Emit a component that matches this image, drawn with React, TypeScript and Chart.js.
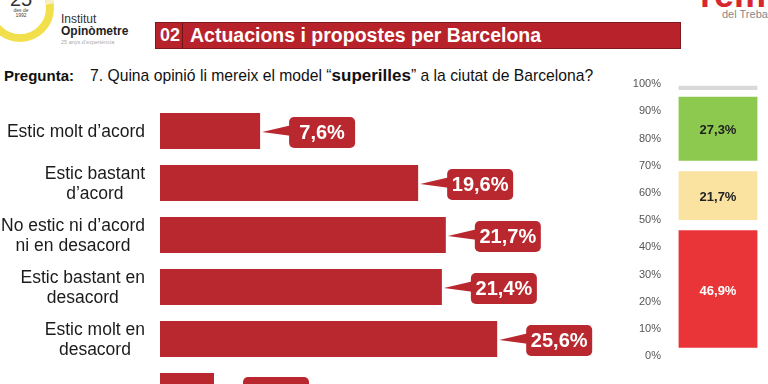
import React, { useEffect, useRef } from "react";
import { Chart, registerables } from "chart.js";

Chart.register(...registerables);

// ---------- data ----------
const categories: string[][] = [
  ["Estic molt d’acord"],
  ["Estic bastant", "d’acord"],
  ["No estic ni d’acord", "ni en desacord"],
  ["Estic bastant en", "desacord"],
  ["Estic molt en", "desacord"],
  ["Ns/Nc"],
];
const values = [7.6, 19.6, 21.7, 21.4, 25.6, 4.1];
const valueLabels = ["7,6%", "19,6%", "21,7%", "21,4%", "25,6%", "4,1%"];

const summaryNames = ["En desacord", "Ni d’acord ni en desacord", "D’acord", "Ns/Nc"];
const summaryValues = [46.9, 21.7, 27.3, 4.1];
const summaryLabels = ["46,9%", "21,7%", "27,3%", ""];
const summaryTicks = [0, 10, 20, 30, 40, 50, 60, 70, 80, 90, 100];

// ---------- styles ----------
const FONT = "'Liberation Sans', Arial, Helvetica, sans-serif";
const BAR_RED = "#b9282e";
const SUMMARY_COLORS = ["#ea3538", "#fae2a0", "#8dc94f", "#d9d9d9"];
const SUMMARY_TEXT = ["#ffffff", "#222222", "#1e1e1e", "#222222"];

const leftPlugin = {
  id: "leftLabels",
  afterDraw(chart: any) {
    const ctx = chart.ctx as CanvasRenderingContext2D;
    const yScale = chart.scales.y;
    const xScale = chart.scales.x;
    ctx.save();
    // category labels, block right aligned, lines centred
    ctx.font = `17.5px ${FONT}`;
    ctx.fillStyle = "#1b1b1b";
    ctx.textAlign = "center";
    ctx.textBaseline = "middle";
    categories.forEach((lines, i) => {
      const cy = yScale.getPixelForValue(i);
      const maxW = Math.max(...lines.map((l) => ctx.measureText(l).width));
      const cx = 145 - maxW / 2;
      lines.forEach((l, j) => {
        ctx.fillText(l, cx, cy + (j - (lines.length - 1) / 2) * 20.5 + 1);
      });
    });
    // callouts
    const meta = chart.getDatasetMeta(0);
    meta.data.forEach((bar: any, i: number) => {
      const end = xScale.getPixelForValue(values[i]);
      const cy = bar.y;
      const x0 = end + 29;
      const w = 66;
      const h = 31;
      const y0 = cy - 14;
      ctx.fillStyle = BAR_RED;
      ctx.beginPath();
      ctx.moveTo(end + 2, cy + 1);
      ctx.lineTo(x0 + 3, cy - 6);
      ctx.lineTo(x0 + 3, cy + 5);
      ctx.closePath();
      ctx.fill();
      ctx.beginPath();
      (ctx as any).roundRect(x0, y0, w, h, 5);
      ctx.fill();
      ctx.fillStyle = "#ffffff";
      ctx.font = `bold 20px ${FONT}`;
      ctx.textAlign = "center";
      ctx.textBaseline = "middle";
      ctx.fillText(valueLabels[i], x0 + w / 2, y0 + h / 2 + 1);
    });
    ctx.restore();
  },
};

const rightPlugin = {
  id: "segLabels",
  afterDatasetsDraw(chart: any) {
    const ctx = chart.ctx as CanvasRenderingContext2D;
    ctx.save();
    ctx.font = `bold 13px ${FONT}`;
    ctx.textAlign = "center";
    ctx.textBaseline = "middle";
    chart.data.datasets.forEach((ds: any, i: number) => {
      const el = chart.getDatasetMeta(i).data[0];
      if (!el || !summaryLabels[i]) return;
      const top = Math.min(el.y, el.base) + 2;
      const bottom = Math.max(el.y, el.base) - 9;
      ctx.fillStyle = SUMMARY_TEXT[i];
      ctx.fillText(summaryLabels[i], el.x, (top + bottom) / 2 + 2);
    });
    ctx.restore();
  },
};

export default function App() {
  const leftRef = useRef<HTMLCanvasElement>(null);
  const rightRef = useRef<HTMLCanvasElement>(null);

  useEffect(() => {
    const left = new Chart(leftRef.current as HTMLCanvasElement, {
      type: "bar",
      data: {
        labels: categories.map((c) => c.join(" ")),
        datasets: [
          {
            data: values,
            backgroundColor: BAR_RED,
            barPercentage: 0.69,
            categoryPercentage: 1,
          },
        ],
      },
      options: {
        indexAxis: "y",
        animation: false,
        responsive: false,
        maintainAspectRatio: false,
        layout: { padding: { top: 5, bottom: 13, left: 0, right: 0 } },
        plugins: { legend: { display: false }, tooltip: { enabled: false } },
        scales: {
          x: { display: false, min: 0, max: 35 },
          y: {
            grid: { display: false, drawTicks: false },
            border: { display: false },
            ticks: { display: false },
            afterFit: (a: any) => {
              a.width = 160;
            },
          },
        },
      },
      plugins: [leftPlugin],
    } as any);

    const right = new Chart(rightRef.current as HTMLCanvasElement, {
      type: "bar",
      data: {
        labels: [""],
        datasets: summaryValues.map((v, i) => ({
          label: summaryNames[i],
          data: [v],
          backgroundColor: SUMMARY_COLORS[i],
          borderColor: "#ffffff",
          borderWidth: { top: 2, bottom: 9, left: 0, right: 0 },
          borderSkipped: false,
          barThickness: 79,
        })),
      },
      options: {
        animation: false,
        responsive: false,
        maintainAspectRatio: false,
        layout: { padding: { top: 14, bottom: 12, left: 0, right: 0 } },
        plugins: { legend: { display: false }, tooltip: { enabled: false } },
        scales: {
          x: { stacked: true, display: false },
          y: {
            stacked: true,
            min: 0,
            max: 100,
            afterBuildTicks: (a: any) => {
              a.ticks = summaryTicks.map((v) => ({ value: v }));
            },
            ticks: {
              callback: (v: any) => `${v}%`,
              color: "#555555",
              font: { size: 11, family: FONT },
              padding: 7,
            },
            grid: { display: false, drawTicks: false },
            border: { display: false },
            afterFit: (a: any) => {
              a.width = 68;
            },
          },
        },
      },
      plugins: [rightPlugin],
    } as any);

    return () => {
      left.destroy();
      right.destroy();
    };
  }, []);

  return (
    <div
      style={{
        position: "fixed",
        left: 0,
        top: 0,
        width: 768,
        height: 384,
        overflow: "hidden",
        background: "#ffffff",
        fontFamily: FONT,
      }}
    >
      {/* logos */}
      <svg width={768} height={60} style={{ position: "absolute", left: 0, top: 0 }}>
        <circle cx={20} cy={8} r={30} fill="none" stroke="#f1e04c" strokeWidth={8} />
        <path d="M 41 -13 A 30 30 0 0 1 50 4" fill="none" stroke="#f6f0c4" strokeWidth={8} />
        <text x={21} y={6} textAnchor="middle" fontSize={20} fontFamily={FONT} fill="#333">25</text>
        <text x={21} y={12} textAnchor="middle" fontSize={5} fontFamily={FONT} fill="#444">des de</text>
        <text x={21} y={17} textAnchor="middle" fontSize={5} fontFamily={FONT} fill="#444">1992</text>
        <text x={61} y={23} fontSize={12} fontFamily={FONT} fill="#333">Institut</text>
        <text x={61} y={35} fontSize={12} fontWeight="bold" fontFamily={FONT} fill="#222">Opinòmetre</text>
        <text x={61} y={44} fontSize={5.5} fontFamily={FONT} fill="#aaa">25 anys d’experiència</text>
        <text x={700} y={7} fontSize={36} fontWeight="bold" fontFamily={FONT} fill="#d7262f">rem</text>
        <text x={722} y={18} fontSize={11} fontFamily={FONT} fill="#888">del Treball</text>
      </svg>

      {/* title bar */}
      <div
        style={{
          position: "absolute",
          left: 155,
          top: 22,
          width: 524,
          height: 25,
          background: "#b8232b",
          border: "1px solid #7e1a1f",
          color: "#ffffff",
          fontWeight: "bold",
          fontSize: 19.5,
          lineHeight: "25px",
        }}
      >
        <span style={{ position: "absolute", left: 4, fontSize: 18 }}>02</span>
        <span style={{ position: "absolute", left: 26, top: 0, width: 1, height: 25, background: "#6e1317" }} />
        <span style={{ position: "absolute", left: 34 }}>Actuacions i propostes per Barcelona</span>
      </div>

      {/* question */}
      <div
        style={{
          position: "absolute",
          left: 4,
          top: 66,
          fontSize: 15.7,
          color: "#111111",
          whiteSpace: "nowrap",
        }}
      >
        <b style={{ fontSize: 15 }}>Pregunta:</b>
        <span style={{ marginLeft: 16 }}>7. Quina opinió li mereix el model “</span>
        <b style={{ fontSize: 17 }}>superilles</b>” a la ciutat de Barcelona?
      </div>

      <canvas
        ref={leftRef}
        width={621}
        height={330}
        style={{ position: "absolute", left: 0, top: 100, width: 621, height: 330 }}
      />
      <canvas
        ref={rightRef}
        width={168}
        height={300}
        style={{ position: "absolute", left: 600, top: 70, width: 168, height: 300 }}
      />
    </div>
  );
}
